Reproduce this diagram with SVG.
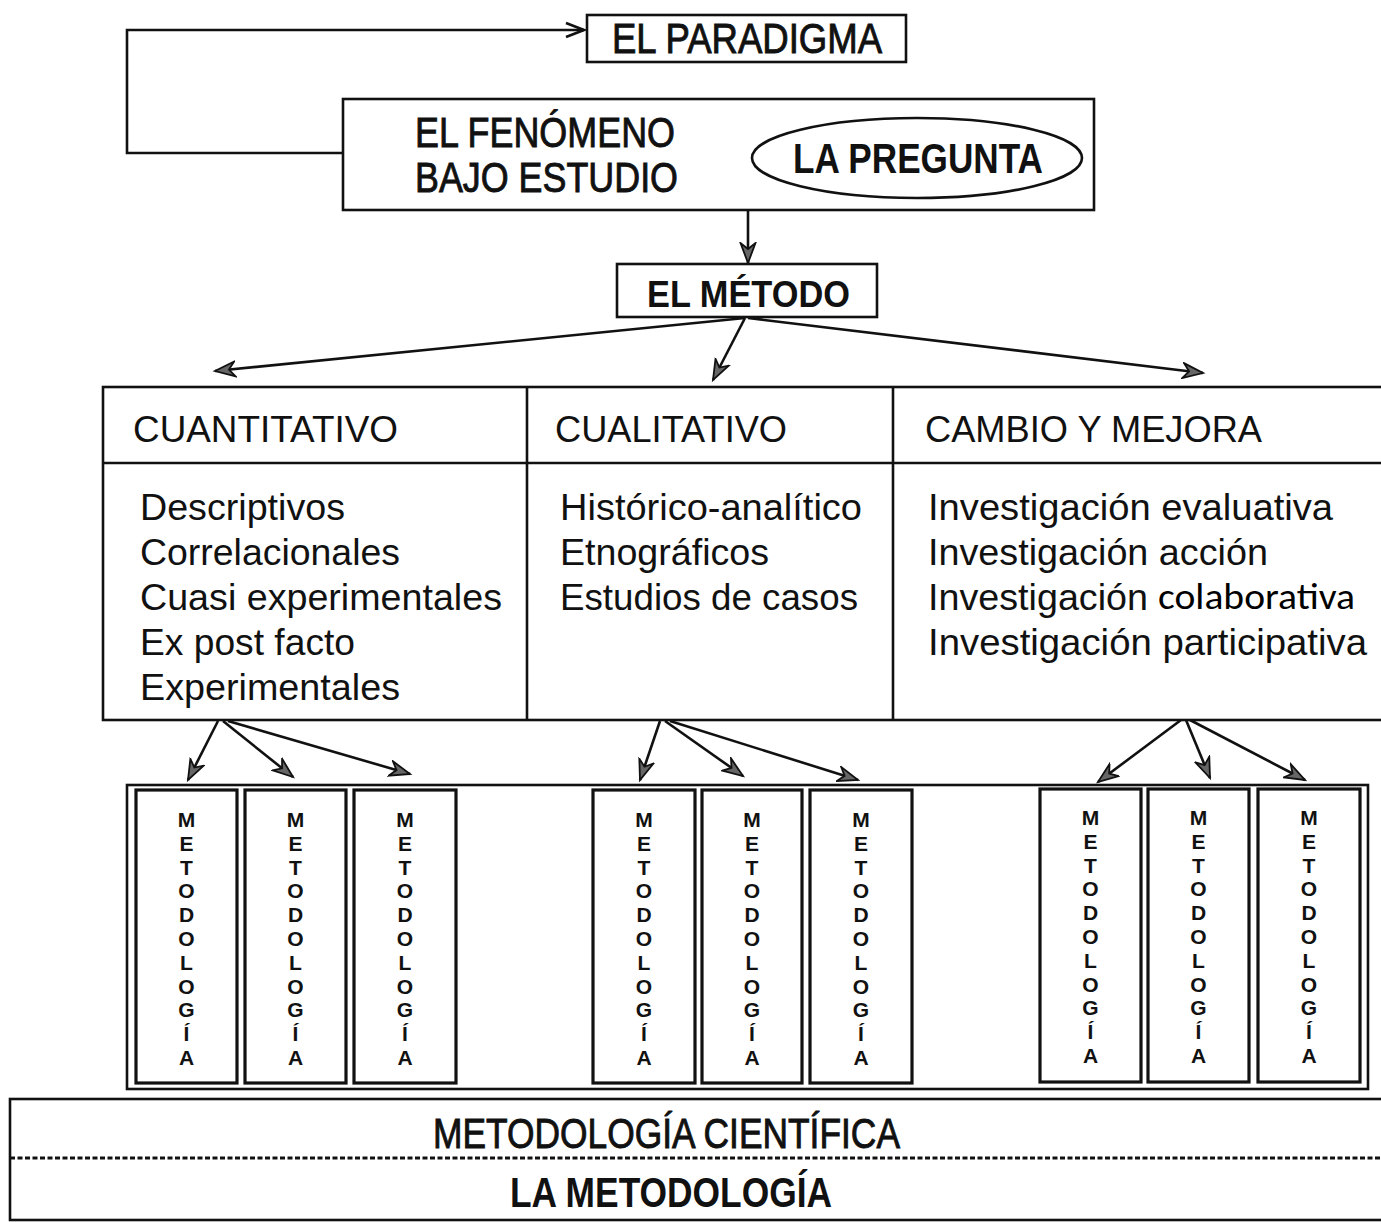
<svg xmlns="http://www.w3.org/2000/svg" width="1381" height="1222" viewBox="0 0 1381 1222">
<defs>
<style>
.box{fill:#fff;stroke:#111;stroke-width:2.6}
.mbox{fill:#fff;stroke:#111;stroke-width:3.2}
.ln{fill:none;stroke:#111;stroke-width:2.6}
.cond{font-family:'Liberation Sans Narrow','Liberation Sans',Arial,sans-serif;font-size:42px;fill:#111;stroke:#111;stroke-width:0.9}
.condb{font-family:'Liberation Sans Narrow','Liberation Sans',Arial,sans-serif;font-size:42px;font-weight:bold;fill:#111}
.hd{font-family:'Liberation Sans',Arial,sans-serif;font-size:36px;fill:#111}
.it{font-family:'Liberation Sans',Arial,sans-serif;font-size:37px;fill:#111}
.cal{font-family:Carlito,'Open Sans','Liberation Sans',sans-serif;font-size:36px;fill:#000}
.vt{font-family:'Liberation Sans',Arial,sans-serif;font-size:21px;font-weight:bold;fill:#111;text-anchor:middle}
</style>
<marker id="ah" markerWidth="24" markerHeight="18" refX="21" refY="9" orient="auto" markerUnits="userSpaceOnUse">
<path d="M1,1.5 L21,9 L1,16.5 L7,9 Z" fill="#666" stroke="#111" stroke-width="1.8"/>
</marker>
<marker id="open" markerWidth="24" markerHeight="20" refX="21" refY="10" orient="auto" markerUnits="userSpaceOnUse">
<path d="M3,3 L21,10 L3,17" fill="none" stroke="#111" stroke-width="2.6"/>
</marker>
</defs>
<rect width="1381" height="1222" fill="#fff"/>

<g id="connectors">
<path class="ln" d="M343,153 H127 V30 H584" marker-end="url(#open)"/>
<line class="ln" x1="748" y1="210" x2="748" y2="263" marker-end="url(#ah)"/>
<line class="ln" x1="745" y1="318" x2="215" y2="371" marker-end="url(#ah)"/>
<line class="ln" x1="745" y1="318" x2="713" y2="380" marker-end="url(#ah)"/>
<line class="ln" x1="748" y1="318" x2="1203" y2="373" marker-end="url(#ah)"/>
<line class="ln" x1="218" y1="721" x2="188" y2="780" marker-end="url(#ah)"/>
<line class="ln" x1="223" y1="721" x2="293" y2="777" marker-end="url(#ah)"/>
<line class="ln" x1="228" y1="721" x2="410" y2="774" marker-end="url(#ah)"/>
<line class="ln" x1="660" y1="721" x2="640" y2="780" marker-end="url(#ah)"/>
<line class="ln" x1="665" y1="721" x2="743" y2="776" marker-end="url(#ah)"/>
<line class="ln" x1="670" y1="721" x2="858" y2="780" marker-end="url(#ah)"/>
<line class="ln" x1="1181" y1="720" x2="1098" y2="782" marker-end="url(#ah)"/>
<line class="ln" x1="1186" y1="720" x2="1210" y2="778" marker-end="url(#ah)"/>
<line class="ln" x1="1190" y1="720" x2="1305" y2="780" marker-end="url(#ah)"/>
</g>

<g id="paradigma">
<rect class="box" x="587" y="15" width="319" height="47"/>
<text class="cond" x="612" y="53" textLength="270" lengthAdjust="spacingAndGlyphs">EL PARADIGMA</text>
</g>

<g id="fenomeno">
<rect class="box" x="343" y="99" width="751" height="111"/>
<text class="cond" x="415" y="147" textLength="260" lengthAdjust="spacingAndGlyphs">EL FENÓMENO</text>
<text class="cond" x="415" y="192" textLength="263" lengthAdjust="spacingAndGlyphs">BAJO ESTUDIO</text>
</g>

<g id="pregunta">
<ellipse class="box" cx="917" cy="158" rx="165" ry="40"/>
<text class="condb" x="793" y="173" textLength="250" lengthAdjust="spacingAndGlyphs">LA PREGUNTA</text>
</g>

<g id="metodo">
<rect class="box" x="617" y="264" width="260" height="53"/>
<text x="647" y="307" font-family="'Liberation Sans',Arial,sans-serif" font-size="36" font-weight="bold" fill="#111" textLength="203" lengthAdjust="spacingAndGlyphs">EL MÉTODO</text>
</g>

<g id="tabla">
<rect class="box" x="103" y="387" width="1290" height="333"/>
<line class="ln" x1="103" y1="463" x2="1381" y2="463"/>
<line class="ln" x1="527" y1="387" x2="527" y2="720"/>
<line class="ln" x1="893" y1="387" x2="893" y2="720"/>
</g>

<g id="cuantitativo">
<text class="hd" x="133" y="442" textLength="265" lengthAdjust="spacingAndGlyphs">CUANTITATIVO</text>
<text class="it" x="140" y="520" textLength="205" lengthAdjust="spacingAndGlyphs">Descriptivos</text>
<text class="it" x="140" y="565" textLength="260" lengthAdjust="spacingAndGlyphs">Correlacionales</text>
<text class="it" x="140" y="610" textLength="362" lengthAdjust="spacingAndGlyphs">Cuasi experimentales</text>
<text class="it" x="140" y="655" textLength="215" lengthAdjust="spacingAndGlyphs">Ex post facto</text>
<text class="it" x="140" y="700" textLength="260" lengthAdjust="spacingAndGlyphs">Experimentales</text>
</g>

<g id="cualitativo">
<text class="hd" x="555" y="442" textLength="232" lengthAdjust="spacingAndGlyphs">CUALITATIVO</text>
<text class="it" x="560" y="520" textLength="302" lengthAdjust="spacingAndGlyphs">Histórico-analítico</text>
<text class="it" x="560" y="565" textLength="209" lengthAdjust="spacingAndGlyphs">Etnográficos</text>
<text class="it" x="560" y="610" textLength="298" lengthAdjust="spacingAndGlyphs">Estudios de casos</text>
</g>

<g id="cambio">
<text class="hd" x="925" y="442" textLength="337" lengthAdjust="spacingAndGlyphs">CAMBIO Y MEJORA</text>
<text class="it" x="928" y="520" textLength="405" lengthAdjust="spacingAndGlyphs">Investigación evaluativa</text>
<text class="it" x="928" y="565" textLength="340" lengthAdjust="spacingAndGlyphs">Investigación acción</text>
<text class="it" x="928" y="610" textLength="220" lengthAdjust="spacingAndGlyphs">Investigación</text>
<text class="cal" x="1158" y="609" textLength="197" lengthAdjust="spacingAndGlyphs">colaborativa</text>
<text class="it" x="928" y="655" textLength="439" lengthAdjust="spacingAndGlyphs">Investigación participativa</text>
</g>

<g id="metodologias">
<rect class="box" x="127" y="785" width="1241" height="304"/>
<g id="m1"><rect class="mbox" x="136" y="790" width="101" height="293"/>
<text class="vt"><tspan x="186.5" y="827">M</tspan><tspan x="186.5" dy="23.8">E</tspan><tspan x="186.5" dy="23.8">T</tspan><tspan x="186.5" dy="23.8">O</tspan><tspan x="186.5" dy="23.8">D</tspan><tspan x="186.5" dy="23.8">O</tspan><tspan x="186.5" dy="23.8">L</tspan><tspan x="186.5" dy="23.8">O</tspan><tspan x="186.5" dy="23.8">G</tspan><tspan x="186.5" dy="23.8">Í</tspan><tspan x="186.5" dy="23.8">A</tspan></text></g>
<g id="m2"><rect class="mbox" x="245" y="790" width="101" height="293"/>
<text class="vt"><tspan x="295.5" y="827">M</tspan><tspan x="295.5" dy="23.8">E</tspan><tspan x="295.5" dy="23.8">T</tspan><tspan x="295.5" dy="23.8">O</tspan><tspan x="295.5" dy="23.8">D</tspan><tspan x="295.5" dy="23.8">O</tspan><tspan x="295.5" dy="23.8">L</tspan><tspan x="295.5" dy="23.8">O</tspan><tspan x="295.5" dy="23.8">G</tspan><tspan x="295.5" dy="23.8">Í</tspan><tspan x="295.5" dy="23.8">A</tspan></text></g>
<g id="m3"><rect class="mbox" x="354" y="790" width="102" height="293"/>
<text class="vt"><tspan x="405" y="827">M</tspan><tspan x="405" dy="23.8">E</tspan><tspan x="405" dy="23.8">T</tspan><tspan x="405" dy="23.8">O</tspan><tspan x="405" dy="23.8">D</tspan><tspan x="405" dy="23.8">O</tspan><tspan x="405" dy="23.8">L</tspan><tspan x="405" dy="23.8">O</tspan><tspan x="405" dy="23.8">G</tspan><tspan x="405" dy="23.8">Í</tspan><tspan x="405" dy="23.8">A</tspan></text></g>
<g id="m4"><rect class="mbox" x="593" y="790" width="102" height="293"/>
<text class="vt"><tspan x="644" y="827">M</tspan><tspan x="644" dy="23.8">E</tspan><tspan x="644" dy="23.8">T</tspan><tspan x="644" dy="23.8">O</tspan><tspan x="644" dy="23.8">D</tspan><tspan x="644" dy="23.8">O</tspan><tspan x="644" dy="23.8">L</tspan><tspan x="644" dy="23.8">O</tspan><tspan x="644" dy="23.8">G</tspan><tspan x="644" dy="23.8">Í</tspan><tspan x="644" dy="23.8">A</tspan></text></g>
<g id="m5"><rect class="mbox" x="702" y="790" width="100" height="293"/>
<text class="vt"><tspan x="752" y="827">M</tspan><tspan x="752" dy="23.8">E</tspan><tspan x="752" dy="23.8">T</tspan><tspan x="752" dy="23.8">O</tspan><tspan x="752" dy="23.8">D</tspan><tspan x="752" dy="23.8">O</tspan><tspan x="752" dy="23.8">L</tspan><tspan x="752" dy="23.8">O</tspan><tspan x="752" dy="23.8">G</tspan><tspan x="752" dy="23.8">Í</tspan><tspan x="752" dy="23.8">A</tspan></text></g>
<g id="m6"><rect class="mbox" x="810" y="790" width="102" height="293"/>
<text class="vt"><tspan x="861" y="827">M</tspan><tspan x="861" dy="23.8">E</tspan><tspan x="861" dy="23.8">T</tspan><tspan x="861" dy="23.8">O</tspan><tspan x="861" dy="23.8">D</tspan><tspan x="861" dy="23.8">O</tspan><tspan x="861" dy="23.8">L</tspan><tspan x="861" dy="23.8">O</tspan><tspan x="861" dy="23.8">G</tspan><tspan x="861" dy="23.8">Í</tspan><tspan x="861" dy="23.8">A</tspan></text></g>
<g id="m7"><rect class="mbox" x="1040" y="789" width="101" height="293"/>
<text class="vt"><tspan x="1090.5" y="825">M</tspan><tspan x="1090.5" dy="23.8">E</tspan><tspan x="1090.5" dy="23.8">T</tspan><tspan x="1090.5" dy="23.8">O</tspan><tspan x="1090.5" dy="23.8">D</tspan><tspan x="1090.5" dy="23.8">O</tspan><tspan x="1090.5" dy="23.8">L</tspan><tspan x="1090.5" dy="23.8">O</tspan><tspan x="1090.5" dy="23.8">G</tspan><tspan x="1090.5" dy="23.8">Í</tspan><tspan x="1090.5" dy="23.8">A</tspan></text></g>
<g id="m8"><rect class="mbox" x="1148" y="789" width="101" height="293"/>
<text class="vt"><tspan x="1198.5" y="825">M</tspan><tspan x="1198.5" dy="23.8">E</tspan><tspan x="1198.5" dy="23.8">T</tspan><tspan x="1198.5" dy="23.8">O</tspan><tspan x="1198.5" dy="23.8">D</tspan><tspan x="1198.5" dy="23.8">O</tspan><tspan x="1198.5" dy="23.8">L</tspan><tspan x="1198.5" dy="23.8">O</tspan><tspan x="1198.5" dy="23.8">G</tspan><tspan x="1198.5" dy="23.8">Í</tspan><tspan x="1198.5" dy="23.8">A</tspan></text></g>
<g id="m9"><rect class="mbox" x="1258" y="789" width="102" height="293"/>
<text class="vt"><tspan x="1309" y="825">M</tspan><tspan x="1309" dy="23.8">E</tspan><tspan x="1309" dy="23.8">T</tspan><tspan x="1309" dy="23.8">O</tspan><tspan x="1309" dy="23.8">D</tspan><tspan x="1309" dy="23.8">O</tspan><tspan x="1309" dy="23.8">L</tspan><tspan x="1309" dy="23.8">O</tspan><tspan x="1309" dy="23.8">G</tspan><tspan x="1309" dy="23.8">Í</tspan><tspan x="1309" dy="23.8">A</tspan></text></g>
</g>

<g id="base">
<rect class="box" x="10" y="1099" width="1390" height="121"/>
<line x1="10" y1="1158" x2="1381" y2="1158" stroke="#111" stroke-width="3" stroke-dasharray="5 2.5"/>
<text class="cond" x="433" y="1148" font-size="40" textLength="467" lengthAdjust="spacingAndGlyphs">METODOLOGÍA CIENTÍFICA</text>
<text class="condb" x="510" y="1207" font-size="40" textLength="322" lengthAdjust="spacingAndGlyphs">LA METODOLOGÍA</text>
</g>
</svg>
